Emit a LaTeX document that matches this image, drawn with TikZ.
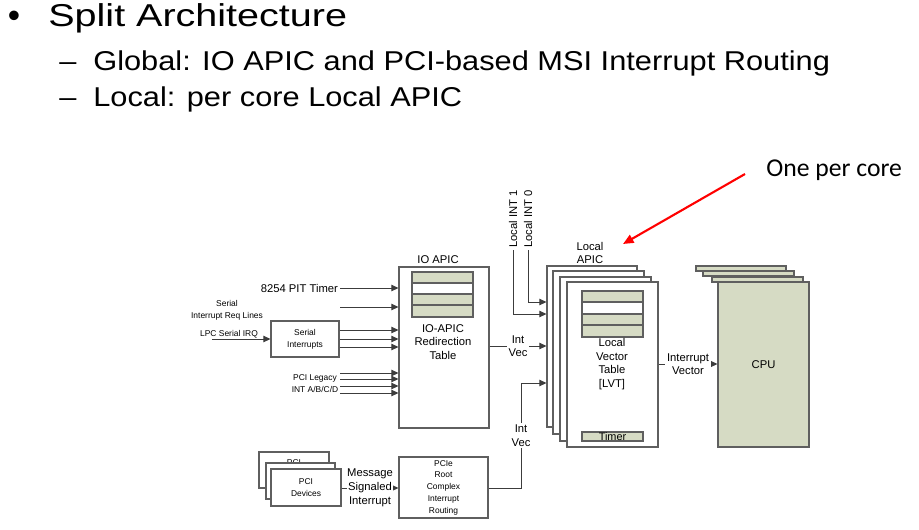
\documentclass[tikz,border=0pt]{standalone}
\usepackage{fontspec}
\setmainfont{Liberation Sans}
\newfontfamily\calibri{Carlito}
\newfontfamily\headwide[FakeStretch=1.25]{Liberation Sans}
\newfontfamily\subwide[FakeStretch=1.13]{Liberation Sans}
\usetikzlibrary{positioning,fit,arrows.meta}

\definecolor{lvtgreen}{RGB}{214,219,196}
\definecolor{boxgray}{RGB}{95,95,95}
\definecolor{wiregray}{RGB}{60,60,60}

\tikzset{
  box/.style={draw=boxgray, line width=0.6pt, fill=white, inner sep=0pt},
  cell/.style={draw=boxgray, line width=0.6pt},
  wire/.style={draw=wiregray, line width=0.5pt, -{Triangle[length=4pt,width=3.6pt]}},
  lbl/.style={font=\fontsize{6.4}{7.7}\selectfont, align=center, inner sep=1pt},
  small/.style={font=\fontsize{4.8}{6.7}\selectfont, align=center, inner sep=1pt},
  head/.style={font=\headwide\fontsize{18}{22}\selectfont, inner sep=0pt},
  sub/.style={font=\subwide\fontsize{15.5}{19}\selectfont, inner sep=0pt},
}

\begin{document}
\begin{tikzpicture}[x=0.02cm, y=-0.02cm]
  \useasboundingbox (0,0) rectangle (919,530);

  % Heading
  \node[font=\fontsize{20}{22}\selectfont, inner sep=0pt, anchor=base] (bullet) at (14,28) {•};
  \node[head, anchor=base west] (title) at (48,27) {Split Architecture};
  \node[sub, anchor=base west] (dashA) at (59,71) {–};
  \node[sub, anchor=base west] (globalA) at (93,71) {Global: IO APIC and PCI-based MSI Interrupt Routing};
  \node[sub, anchor=base west] (dashB) at (59,107) {–};
  \node[sub, anchor=base west] (localA) at (93,107) {Local: per core Local APIC};

  % IO APIC
  \node[box, fit={(399,267) (489,428)}] (ioapic) {};
  \node[lbl] (ioapiclbl) at (438,260) {IO APIC};
  \foreach \t/\b/\c in {272/283/lvtgreen, 283/294/white, 294/305/lvtgreen, 305/317/lvtgreen}
    \draw[cell, fill=\c] (412,\t) rectangle (473,\b);
  \node[lbl] (redir) at (443,342) {IO-APIC\\Redirection\\Table};

  % Inputs of the IO APIC
  \node[lbl, anchor=east] (pit) at (340,288) {8254 PIT Timer};
  \draw[wire] (pit.east) -- (pit.east -| ioapic.west);
  \node[small] (reqlines) at (227,310) {Serial\\Interrupt Req Lines};
  \coordinate (reqin) at (340,307);
  \draw[wire] (reqin) -- (reqin -| ioapic.west);

  \node[box, fit={(271,321) (339,357)}] (serial) {};
  \node[small] (seriallbl) at (serial) {Serial\\Interrupts};
  \node[small] (lpc) at (229,334) {LPC Serial IRQ};
  \coordinate (lpcin) at (212,339);
  \draw[wire] (lpcin) -- (lpcin -| serial.west);
  \foreach \y in {330,339,347}
    \draw[wire] (serial.east |- 0,\y) -- (ioapic.west |- 0,\y);

  \node[small] (legacy) at (315,378) {PCI Legacy};
  \node[small] (intabcd) at (315,389) {INT A/B/C/D};
  \foreach \y [count=\i] in {373,379,386,393} {
    \coordinate (leg\i) at (340,\y);
    \draw[wire] (leg\i) -- (leg\i -| ioapic.west);
  }

  % Local APIC, one per core
  \node[box, fit={(547,266) (637,427)}] (lapicA) {};
  \node[box, fit={(553,271) (644,434)}] (lapicB) {};
  \node[box, fit={(560,277) (651,441)}] (lapicC) {};
  \node[box, fit={(567,282) (658,447)}] (lapic) {};
  \node[lbl] (lapiclbl) at (590,253) {Local\\APIC};
  \foreach \t/\b/\c in {291/302/lvtgreen, 302/314/white, 314/325/lvtgreen, 325/337/lvtgreen}
    \draw[cell, fill=\c] (582,\t) rectangle (643,\b);
  \node[lbl] (lvt) at (612,364) {Local\\Vector\\Table\\{[LVT]}};
  \node[cell, fill=lvtgreen, minimum width=61*0.02cm, minimum height=9*0.02cm, inner sep=0pt,
        font=\fontsize{6.2}{7}\selectfont] (timer) at (612.5,436.5) {Timer};

  % Local interrupt lines
  \node[lbl, rotate=90, anchor=west] (lint1) at (513,250) {Local INT 1};
  \node[lbl, rotate=90, anchor=west] (lint0) at (528,250) {Local INT 0};
  \draw[wire] (lint0.west) |- (lapicA.west |- 0,302);
  \draw[wire] (lint1.west) |- (lapicA.west |- 0,314);
  \draw[wire] (ioapic.east |- 0,346) -- node[lbl, fill=white] (intvecA) {Int\\Vec} (lapicA.west |- 0,346);

  % PCI devices and MSI routing
  \node[box, fit={(259,452) (329,488)}] (pciA) {};
  \node[small] (pciAlbl) at (294,463) {PCI};
  \node[box, fit={(266,463) (335,499)}] (pciB) {};
  \node[box, fit={(271,469) (341,506)}] (pciC) {};
  \node[small] (pciClbl) at (pciC) {PCI\\Devices};
  \node[box, fit={(399,457) (488,518)}] (pcie) {};
  \node[small] (pcielbl) at (pcie) {PCIe\\Root\\Complex\\Interrupt\\Routing};
  \draw[wire] (pciC.east |- 0,488) -- node[lbl, fill=white, inner sep=0pt, font=\fontsize{6.4}{8}\selectfont] (msi) {Message\\Signaled\\Interrupt} (pcie.west |- 0,488);
  \coordinate (bend) at (521,383);
  \draw[wire] (pcie.east |- 0,488) -| node[lbl, fill=white, pos=0.75] (intvecB) {Int\\Vec} (bend) -- (bend -| lapicA.west);

  % CPU
  \foreach \l/\t/\r in {696/266/786, 703/271/794, 712/277/803}
    \draw[cell, fill=lvtgreen] (\l,\t) rectangle (\r,\t+5);
  \node[box, fill=lvtgreen, fit={(718,282) (809,447)}] (cpu) {};
  \node[lbl] (cpulbl) at (cpu) {CPU};
  \draw[wire] (lapic.east |- 0,364) -- node[lbl, fill=white] (irqvec) {Interrupt\\Vector} (cpu.west |- 0,364);

  % Note
  \node[font=\calibri\fontsize{14.6}{17}\selectfont, anchor=west, inner sep=0pt] (percore) at (766,170) {One per core};
  \coordinate (redstart) at (745,174);
  \coordinate (redtip) at (623,244);
  \draw[red, line width=1.2pt, -{Triangle[length=6pt,width=5pt]}] (redstart) -- (redtip);
\end{tikzpicture}
\end{document}
